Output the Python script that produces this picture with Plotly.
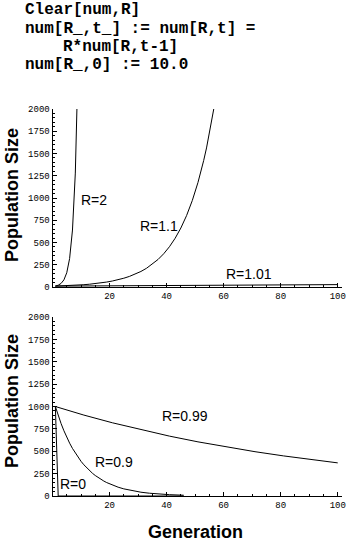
import plotly.graph_objects as go

# ---- data (x = generation index, y = population size) ----
gen_r2 = [1, 2, 3, 4, 5, 6, 7, 8, 9]
pop_r2 = [10, 20, 40, 80, 160, 320, 640, 1280, 2560]

gen_r11 = [1, 2, 3, 4, 5, 6, 7, 8, 9, 10, 11, 13, 15, 17, 19, 21, 23, 25, 27, 29, 31,
           33, 35, 37, 39, 41, 43, 45, 47, 49, 51, 52, 53, 54, 55, 56, 57]
pop_r11 = [10, 11, 12.1, 13.3, 14.6, 16.1, 17.7, 19.5, 21.4, 23.6, 25.9, 31.4, 38.0,
           46.0, 55.6, 67.3, 81.4, 98.5, 119.2, 144.2, 174.5, 211.1, 255.5, 309.1,
           374.0, 452.6, 547.6, 662.6, 801.8, 970.2, 1173.9, 1291.3, 1420.4, 1562.5,
           1718.7, 1890.6, 2079.7]

gen_r101 = [1, 11, 21, 31, 41, 51, 61, 71, 81, 91, 100]
pop_r101 = [10, 11.0, 12.2, 13.5, 14.9, 16.4, 18.2, 20.1, 22.2, 24.5, 26.8]

gen_r099 = [1, 11, 21, 31, 41, 51, 61, 71, 81, 91, 100]
pop_r099 = [1000, 904, 818, 740, 669, 605, 547, 495, 448, 405, 370]

gen_r09 = [1, 2, 3, 4, 5, 6, 7, 8, 9, 10, 11, 12, 13, 14, 15, 16, 17, 18, 19, 20, 21,
           23, 25, 27, 29, 31, 34, 37, 41, 46]
pop_r09 = [1000, 900, 810, 729, 656.1, 590.5, 531.4, 478.3, 430.5, 387.4, 348.7,
           313.8, 282.4, 254.2, 228.8, 205.9, 185.3, 166.8, 150.1, 135.1, 121.6,
           98.5, 79.8, 64.6, 52.3, 42.4, 30.9, 22.5, 14.8, 8.7]

gen_r0 = [1, 2, 10, 20, 30, 40, 46]
pop_r0 = [1000, 0, 0, 0, 0, 0, 0]

code_lines = ["Clear[num,R]", "num[R_,t_] := num[R,t] =", "R*num[R,t-1]", "num[R_,0] := 10.0"]

W, H = 351, 543

fig = go.Figure()
line = dict(color="black", width=1)
for gx, gy in [(gen_r2, pop_r2), (gen_r11, pop_r11), (gen_r101, pop_r101)]:
    fig.add_trace(go.Scatter(x=gx, y=gy, mode="lines", line=line, xaxis="x", yaxis="y",
                             showlegend=False, hoverinfo="skip"))
for gx, gy in [(gen_r099, pop_r099), (gen_r09, pop_r09), (gen_r0, pop_r0)]:
    fig.add_trace(go.Scatter(x=gx, y=gy, mode="lines", line=line, xaxis="x2", yaxis="y2",
                             showlegend=False, hoverinfo="skip"))

tickfont = dict(family="Liberation Mono, Courier New, monospace", size=9, color="black")
xcommon = dict(range=[0, 101.5], tick0=0, dtick=20, ticks="inside", ticklen=4, tickcolor="black",
               showline=True, linecolor="black", linewidth=1, showgrid=False, zeroline=False,
               tickfont=tickfont, automargin=False,
               tickvals=[20, 40, 60, 80, 100],
               minor=dict(dtick=5, tick0=0, ticks="inside", ticklen=2, tickcolor="black"))
ycommon = dict(range=[0, 2000], tick0=0, dtick=250, ticks="inside", ticklen=4, tickcolor="black",
               showline=True, linecolor="black", linewidth=1, showgrid=False, zeroline=False,
               tickfont=tickfont, automargin=False,
               minor=dict(dtick=50, ticks="inside", ticklen=2, tickcolor="black"))

xd = [52.5 / W, 342 / W]
fig.update_layout(
    width=W, height=H, margin=dict(l=0, r=0, t=0, b=0, autoexpand=False),
    paper_bgcolor="white", plot_bgcolor="white",
    xaxis=dict(domain=xd, anchor="y", **xcommon),
    yaxis=dict(domain=[(H - 287) / H, (H - 109) / H], anchor="x", **ycommon),
    xaxis2=dict(domain=xd, anchor="y2", **xcommon),
    yaxis2=dict(domain=[(H - 496) / H, (H - 317) / H], anchor="x2", **ycommon),
)

ann = []
lab_font = dict(family="Liberation Sans, Arial, sans-serif", size=14, color="black")
# curve labels (top)
for txt, x, y in [("R=2", 14.7, 980), ("R=1.1", 37.4, 690), ("R=1.01", 68.9, 150)]:
    ann.append(dict(text=txt, x=x, y=y, xref="x", yref="y", showarrow=False, font=lab_font,
                    xanchor="center", yanchor="middle"))
for txt, x, y in [("R=0.99", 46.5, 890), ("R=0.9", 21.4, 380), ("R=0", 7.2, 130)]:
    ann.append(dict(text=txt, x=x, y=y, xref="x2", yref="y2", showarrow=False, font=lab_font,
                    xanchor="center", yanchor="middle"))

title_font = dict(family="Liberation Sans, Arial, sans-serif", size=18, color="black")
for yc in [195, 401]:
    ann.append(dict(text="<b>Population Size</b>", x=12 / W, y=(H - yc) / H, xref="paper", yref="paper",
                    textangle=-90, showarrow=False, font=title_font, xanchor="center", yanchor="middle"))
ann.append(dict(text="<b>Generation</b>", x=195 / W, y=0, xref="paper", yref="paper",
                showarrow=False, font=title_font, xanchor="center", yanchor="bottom", borderpad=0))

code_font = dict(family="Liberation Mono, Courier New, monospace", size=16, color="black")
for txt, x0, yc in zip(code_lines, [23, 23, 61, 23], [10, 29, 47, 65]):
    ann.append(dict(text="<b>" + txt + "</b>", x=x0 / W, y=(H - yc) / H, xref="paper", yref="paper",
                    xanchor="left", yanchor="middle", showarrow=False, font=code_font))

fig.update_layout(annotations=ann)
fig.write_html("out.html")
